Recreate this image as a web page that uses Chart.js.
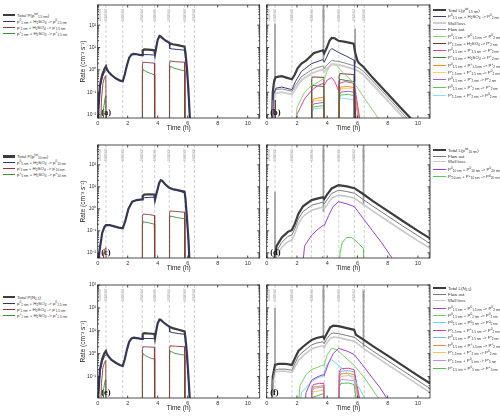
<!DOCTYPE html>
<html>
<head>
<meta charset="utf-8">
<script src="https://cdn.jsdelivr.net/npm/chart.js@4.4.0/dist/chart.umd.min.js"></script>
<style>
html, body { margin: 0; padding: 0; background: #fff; }
#fig { position: relative; width: 500px; height: 417px; overflow: hidden; font-family: "Liberation Sans", Arial, sans-serif; }
#fig canvas { position: absolute; }
.lg { position: absolute; font-size: 4.4px; line-height: 5px; height: 5px; color: #333; white-space: nowrap; }
.lg .s { position: absolute; left: 0; top: 50%; }
.lg sub, .lg sup { font-size: 3.2px; line-height: 0; vertical-align: baseline; position: relative; }
.lg sub { top: 1.2px; }
.lg sup { top: -1.6px; }
</style>
</head>
<body>
<div id="fig"></div>
<script>
// time axis and event markers
const xTicks = [0, 2, 4, 6, 8, 10];
const yDecades = [1e-2, 1e-1, 1, 10, 100, 1000];
const eventTimes = [0, 0.55, 1.67, 2.97, 3.8, 4.77, 5.8, 6.45];
const eventLabels = ['1830.00', '1830.02', '1830.03', '1830.04', '1830.05', '1830.06', '1830.07', '1830.08'];

// (a) production of 1.5 nm particles
const aTotal = [[0,1e-4],[0.05,0.02],[0.15,0.2],[0.3,0.6],[0.45,1.1],[0.55,1.45],[0.6,1.1],[0.7,0.85],[0.9,0.6],[1.2,0.42],[1.5,0.33],[1.67,0.31],[1.8,0.6],[1.95,1.6],[2.1,3.5],[2.25,4.8],[2.4,5.2],[2.6,5.0],[2.8,4.7],[2.96,4.5],[3.0,7.5],[3.1,8.3],[3.4,8.0],[3.78,7.5],[3.82,5.0],[3.9,10],[4.0,22],[4.12,33],[4.2,31],[4.4,24],[4.6,19],[4.76,16.5],[4.8,15.5],[5.0,14],[5.4,12.5],[5.79,11],[5.85,6],[5.95,1.2],[6.05,0.12],[6.15,0.006],[6.25,1e-4]];
const aNeu = [[0,1e-4],[0.05,0.015],[0.15,0.15],[0.3,0.45],[0.45,0.8],[0.55,0.95],[0.6,1.0],[0.7,0.85],[0.9,0.6],[1.2,0.42],[1.5,0.33],[1.67,0.31],[1.8,0.6],[1.95,1.6],[2.1,3.5],[2.25,4.8],[2.4,5.2],[2.6,5.0],[2.8,4.7],[2.96,4.5],[3.0,4.8],[3.4,4.8],[3.78,4.6],[3.82,5.0],[3.9,10],[4.0,22],[4.12,33],[4.2,31],[4.4,24],[4.6,19],[4.76,16.5],[4.8,9],[5.0,8.6],[5.4,8.1],[5.79,7.6],[5.85,4],[5.95,0.8],[6.05,0.08],[6.15,0.005],[6.25,1e-4]];
const aNeg = [[0.15,1e-4],[0.25,0.05],[0.35,0.25],[0.45,0.45],[0.54,0.55],[0.56,0.01],[0.58,1e-4],[2.96,1e-4],[2.98,1.5],[3.02,2.2],[3.4,2.1],[3.78,2.0],[3.8,1e-4],[4.77,1e-4],[4.79,1.8],[4.83,2.5],[5.2,2.3],[5.79,2.2],[5.81,1e-4]];
const aPos = [[0.3,1e-4],[0.4,0.02],[0.5,0.06],[0.54,0.07],[0.56,1e-4],[2.96,1e-4],[2.98,0.6],[3.02,1.05],[3.2,0.85],[3.5,0.7],[3.78,0.6],[3.8,1e-4],[4.77,1e-4],[4.79,0.9],[4.83,1.45],[5.1,1.2],[5.5,1.0],[5.79,0.9],[5.81,1e-4]];
const aLabels = [
  'Total P(p<sup>tot</sup><sub>1.5 nm</sub>)',
  'p<sup>0</sup><sub>1 nm</sub> + H<sub>2</sub>SO<sub>4</sub> -&gt; p<sup>0</sup><sub>1.5 nm</sub>',
  'p<sup>-</sup><sub>1 nm</sub> + H<sub>2</sub>SO<sub>4</sub> -&gt; p<sup>-</sup><sub>1.5 nm</sub>',
  'p<sup>+</sup><sub>1 nm</sub> + H<sub>2</sub>SO<sub>4</sub> -&gt; p<sup>+</sup><sub>1.5 nm</sub>'
];

// (b) losses of 1.5 nm particles
const bTotal = [[0.3,1e-4],[0.4,0.1],[0.5,0.35],[0.6,0.47],[0.8,0.5],[1.0,0.52],[1.3,0.45],[1.67,0.38],[1.85,0.6],[2.05,1.2],[2.3,1.9],[2.6,2.6],[2.97,4.5],[3.1,5.5],[3.4,6.5],[3.72,7.5],[3.8,5.5],[3.95,9],[4.15,20],[4.3,27],[4.5,26],[4.75,20],[5.2,18],[5.75,15],[5.85,6],[6.0,2.6],[6.1,2.0],[6.4,1.35],[7,0.45],[8,0.085],[9,0.016],[9.6,0.006]];
const bCond = [[0.3,1e-4],[0.45,0.08],[0.6,0.15],[1.0,0.17],[1.67,0.13],[1.9,0.3],[2.3,0.85],[2.97,1.9],[3.4,2.4],[3.72,2.9],[3.8,2.2],[3.95,3.5],[4.15,7],[4.3,9],[4.75,6],[5.3,4],[5.78,2.7],[5.82,0.3],[5.9,0.001]];
const bWall = [[0.3,1e-4],[0.45,0.04],[0.6,0.09],[1.0,0.1],[1.67,0.08],[1.9,0.14],[2.3,0.35],[2.97,0.7],[3.4,0.9],[3.72,1.05],[3.8,0.8],[3.95,1.1],[4.3,1.8],[4.75,1.7],[5.3,1.35],[5.8,1.05],[6.1,0.85],[6.4,0.6],[7,0.22],[8,0.042],[9,0.008],[9.2,0.0062]];
const bFlow = [[0.3,1e-4],[0.45,0.06],[0.6,0.13],[1.0,0.14],[1.67,0.11],[1.9,0.2],[2.3,0.5],[2.97,1.0],[3.4,1.3],[3.72,1.5],[3.8,1.1],[3.95,1.6],[4.3,2.6],[4.75,2.4],[5.3,1.9],[5.8,1.5],[6.1,1.2],[6.4,0.85],[7,0.32],[8,0.06],[9,0.011],[9.3,0.0068]];
const bC1 = [[1.75,1e-4],[2.0,0.02],[2.5,0.1],[2.97,0.2],[3.4,0.28],[3.75,0.4],[3.8,0.35],[4.0,0.9],[4.3,1.9],[4.6,1.6],[5,0.8],[5.8,0.25],[6.5,0.05],[7.4,0.0065]];
const bC2 = [[0.3,1e-4],[0.4,0.025],[0.5,0.045],[0.55,0.045],[0.57,1e-4],[2.96,1e-4],[2.98,0.4],[3.03,0.48],[3.4,0.47],[3.78,0.46],[3.8,1e-4],[4.77,1e-4],[4.79,0.55],[4.83,0.68],[5.3,0.65],[5.78,0.62],[5.8,1e-4]];
const bC3 = [[1.7,1e-4],[2.0,0.01],[2.5,0.05],[2.97,0.12],[3.4,0.2],[3.75,0.25],[3.8,0.2],[4.0,0.35],[4.3,0.45],[4.5,0.3],[4.75,0.12],[4.8,0.25],[5.2,0.3],[5.78,0.25],[5.95,0.05],[6.15,0.007]];
const bC4 = [[2.96,1e-4],[2.98,0.15],[3.03,0.2],[3.78,0.18],[3.8,1e-4],[4.77,1e-4],[4.79,0.3],[4.83,0.38],[5.3,0.33],[5.78,0.3],[5.8,1e-4]];
const bC5 = [[2.96,1e-4],[2.98,0.03],[3.1,0.05],[3.78,0.06],[3.8,1e-4],[4.77,1e-4],[4.8,0.1],[4.9,0.17],[5.4,0.18],[5.78,0.16],[5.95,0.03],[6.1,0.007]];
const bC6 = [[2.96,1e-4],[2.98,0.025],[3.1,0.04],[3.78,0.045],[3.8,1e-4],[4.77,1e-4],[4.8,0.09],[4.9,0.14],[5.4,0.15],[5.78,0.13],[5.95,0.025],[6.1,0.007]];
const bC7 = [[2.96,1e-4],[2.98,0.02],[3.1,0.03],[3.78,0.035],[3.8,1e-4],[4.77,1e-4],[4.8,0.07],[4.9,0.1],[5.4,0.11],[5.78,0.1],[5.95,0.02],[6.05,0.007]];
const bC8 = [[2.96,1e-4],[2.98,0.015],[3.1,0.022],[3.78,0.025],[3.8,1e-4],[4.77,1e-4],[4.8,0.05],[4.9,0.075],[5.4,0.08],[5.78,0.07],[5.9,0.007]];
const bC9 = [[2.96,1e-4],[2.98,0.012],[3.1,0.018],[3.78,0.02],[3.8,1e-4],[4.77,1e-4],[4.8,0.04],[4.9,0.055],[5.4,0.05],[5.78,0.045],[5.9,0.007]];
const bSpikeT = [0.55, 3.75, 5.85];
const bSpikeLo = [0.3, 2.7, 1.9];
const bSpikeHi = [120, 800, 71];
const bLabels = [
  'Total L(p<sup>tot</sup><sub>1.5 nm</sub>)',
  'P<sup>0</sup><sub>1.5 nm</sub> + H<sub>2</sub>SO<sub>4</sub> -&gt; P<sup>0</sup><sub>2 nm</sub>',
  'Wall loss',
  'Flow out',
  'P<sup>0</sup><sub>1.5 nm</sub> + P<sup>0</sup><sub>1.5 nm</sub> -&gt; P<sup>0</sup><sub>2 nm</sub>',
  'P<sup>-</sup><sub>1.5 nm</sub> + H<sub>2</sub>SO<sub>4</sub> -&gt; P<sup>-</sup><sub>2 nm</sub>',
  'P<sup>0</sup><sub>1.5 nm</sub> + P<sup>-</sup><sub>1.5 nm</sub> -&gt; P<sup>-</sup><sub>2 nm</sub>',
  'P<sup>+</sup><sub>1.5 nm</sub> + H<sub>2</sub>SO<sub>4</sub> -&gt; P<sup>+</sup><sub>2 nm</sub>',
  'P<sup>0</sup><sub>1.5 nm</sub> + P<sup>+</sup><sub>1.5 nm</sub> -&gt; P<sup>+</sup><sub>2 nm</sub>',
  'P<sup>-</sup><sub>1.5 nm</sub> + P<sup>+</sup><sub>1.5 nm</sub> -&gt; P<sup>0</sup><sub>2 nm</sub>',
  'P<sup>0</sup><sub>1.5 nm</sub> + P<sup>-</sup><sub>2 nm</sub> -&gt; P<sup>-</sup><sub>2 nm</sub>',
  'P<sup>0</sup><sub>1.5 nm</sub> + P<sup>+</sup><sub>2 nm</sub> -&gt; P<sup>+</sup><sub>2 nm</sub>',
  'P<sup>-</sup><sub>1.5 nm</sub> + P<sup>+</sup><sub>2 nm</sub> -&gt; P<sup>0</sup><sub>2 nm</sub>'
];

// (c) production of 10 nm particles
const cTotal = [[0,1e-4],[0.1,0.01],[0.3,0.08],[0.45,0.15],[0.55,0.18],[0.8,0.18],[1.1,0.16],[1.4,0.14],[1.67,0.13],[1.85,0.3],[2.05,1.0],[2.3,2.1],[2.6,2.5],[2.96,2.7],[3.0,3.8],[3.1,4.4],[3.4,4.6],[3.78,4.5],[3.82,2.6],[3.95,6],[4.1,15],[4.2,20],[4.3,19],[4.5,13],[4.77,9],[5.0,8],[5.4,7],[5.79,6],[5.85,3],[5.95,0.4],[6.05,0.04],[6.12,0.004]];
const cNeu = [[0,1e-4],[0.1,0.01],[0.3,0.08],[0.45,0.15],[0.55,0.18],[0.8,0.18],[1.1,0.16],[1.4,0.14],[1.67,0.13],[1.85,0.3],[2.05,1.0],[2.3,2.1],[2.6,2.5],[2.96,2.7],[3.0,3.0],[3.1,3.2],[3.4,3.3],[3.78,3.4],[3.82,2.6],[3.95,6],[4.1,15],[4.2,20],[4.3,19],[4.5,13],[4.77,8.6],[5.0,7.4],[5.4,6.4],[5.79,5.4],[5.85,2.7],[5.95,0.35],[6.05,0.035],[6.12,0.004]];
const cNeg = [[0.3,1e-4],[0.4,0.01],[0.5,0.016],[0.55,0.017],[0.57,1e-4],[2.96,1e-4],[2.98,0.45],[3.03,0.58],[3.4,0.55],[3.78,0.5],[3.8,1e-4],[4.77,1e-4],[4.79,0.6],[4.83,0.8],[5.3,0.75],[5.79,0.7],[5.81,1e-4]];
const cPos = [[2.96,1e-4],[2.98,0.18],[3.03,0.26],[3.4,0.23],[3.78,0.2],[3.8,1e-4],[4.77,1e-4],[4.79,0.35],[4.83,0.47],[5.3,0.4],[5.79,0.35],[5.81,1e-4]];
const cLabels = [
  'Total P(p<sup>tot</sup><sub>10 nm</sub>)',
  'p<sup>0</sup><sub>5 nm</sub> + H<sub>2</sub>SO<sub>4</sub> -&gt; p<sup>0</sup><sub>10 nm</sub>',
  'p<sup>-</sup><sub>5 nm</sub> + H<sub>2</sub>SO<sub>4</sub> -&gt; p<sup>-</sup><sub>10 nm</sub>',
  'p<sup>+</sup><sub>5 nm</sub> + H<sub>2</sub>SO<sub>4</sub> -&gt; p<sup>+</sup><sub>10 nm</sub>'
];

// (d) losses of 10 nm particles
const dTotal = [[0.4,1e-4],[0.5,0.005],[0.65,0.02],[1.0,0.05],[1.4,0.09],[1.67,0.11],[1.85,0.2],[2.1,0.6],[2.4,1.3],[2.97,2.5],[3.4,3.0],[3.72,3.4],[3.8,2.8],[4.0,4.5],[4.3,8.5],[4.75,12],[5.3,10.5],[5.8,8.7],[6.4,4.6],[7,2.3],[8,0.8],[9,0.28],[10,0.1],[10.8,0.045]];
const dFlow = [[0.4,1e-4],[0.5,0.003],[0.65,0.012],[1.0,0.03],[1.4,0.055],[1.67,0.065],[1.85,0.12],[2.1,0.35],[2.4,0.75],[2.97,1.45],[3.4,1.75],[3.72,2.0],[3.8,1.65],[4.0,2.6],[4.3,5.0],[4.75,7.0],[5.3,6.1],[5.8,5.1],[6.4,2.6],[7,1.35],[8,0.47],[9,0.165],[10,0.06],[10.8,0.026]];
const dWall = [[0.4,1e-4],[0.5,0.002],[0.65,0.007],[1.0,0.018],[1.4,0.032],[1.67,0.038],[1.85,0.07],[2.1,0.21],[2.4,0.45],[2.97,0.87],[3.4,1.05],[3.72,1.2],[3.8,1.0],[4.0,1.55],[4.3,3.0],[4.75,4.2],[5.3,3.7],[5.8,3.0],[6.4,1.55],[7,0.8],[8,0.28],[9,0.098],[10,0.035],[10.8,0.016]];
const dC1 = [[2.2,1e-4],[2.5,0.02],[2.97,0.063],[3.4,0.12],[3.75,0.18],[3.8,0.17],[4.1,0.5],[4.4,1.3],[4.75,2.1],[5.3,1.7],[5.8,1.25],[6.4,0.35],[7,0.1],[7.6,0.029],[8.35,0.005]];
const dC2 = [[3.6,1e-4],[3.7,0.007],[3.75,1e-4],[4.75,1e-4],[4.85,0.01],[5.0,0.03],[5.3,0.05],[5.6,0.05],[5.8,0.04],[6.1,0.025],[6.4,0.016],[6.45,1e-4]];
const dSpikeT = [0.55, 3.75, 6.4];
const dSpikeLo = [0.005, 0.74, 1.5];
const dSpikeHi = [6, 800, 800];
const dLabels = [
  'Total L(p<sup>tot</sup><sub>10 nm</sub>)',
  'Flow out',
  'Wall loss',
  'P<sup>0</sup><sub>10 nm</sub> + P<sup>0</sup><sub>10 nm</sub> -&gt; P<sup>0</sup><sub>20 nm</sub>',
  'P<sup>-</sup><sub>10 nm</sub> + P<sup>+</sup><sub>10 nm</sub> -&gt; P<sup>0</sup><sub>20 nm</sub>'
];

// (e) production of N1.5
const eTotal = [[0,1e-4],[0.05,0.02],[0.15,0.2],[0.3,0.6],[0.45,1.05],[0.55,1.3],[0.6,1.0],[0.7,0.8],[0.9,0.55],[1.2,0.4],[1.5,0.31],[1.67,0.29],[1.8,0.55],[1.95,1.5],[2.1,3.3],[2.25,4.6],[2.4,5.0],[2.6,4.8],[2.8,4.5],[2.96,4.4],[3.0,7.2],[3.1,7.9],[3.4,7.6],[3.78,7.2],[3.82,4.8],[3.9,10],[4.0,21],[4.12,31],[4.2,30],[4.4,23],[4.6,18],[4.76,15.5],[4.8,15],[5.0,13],[5.4,11],[5.79,9.4],[5.85,5],[5.95,1.0],[6.05,0.1],[6.15,0.008],[6.25,1e-4]];
const eNeu = [[0,1e-4],[0.05,0.015],[0.15,0.15],[0.3,0.45],[0.45,0.75],[0.55,0.9],[0.6,0.9],[0.7,0.78],[0.9,0.55],[1.2,0.4],[1.5,0.31],[1.67,0.29],[1.8,0.55],[1.95,1.5],[2.1,3.3],[2.25,4.6],[2.4,5.0],[2.6,4.8],[2.8,4.5],[2.96,4.4],[3.0,4.6],[3.4,4.6],[3.78,4.5],[3.82,4.8],[3.9,10],[4.0,21],[4.12,31],[4.2,30],[4.4,23],[4.6,18],[4.76,15.5],[4.8,9],[5.0,8.3],[5.4,7.5],[5.79,7],[5.85,3.5],[5.95,0.7],[6.05,0.07],[6.15,0.006],[6.25,1e-4]];
const eNeg = [[0.15,1e-4],[0.25,0.05],[0.35,0.25],[0.45,0.4],[0.54,0.5],[0.56,1e-4],[2.96,1e-4],[2.98,1.5],[3.02,2.0],[3.4,1.95],[3.78,1.9],[3.8,1e-4],[4.77,1e-4],[4.79,1.7],[4.83,2.2],[5.2,2.1],[5.79,2.0],[5.81,1e-4]];
const ePos = [[0.3,1e-4],[0.4,0.03],[0.5,0.07],[0.54,0.075],[0.56,1e-4],[2.96,1e-4],[2.98,0.6],[3.02,1.0],[3.2,0.8],[3.5,0.65],[3.78,0.58],[3.8,1e-4],[4.77,1e-4],[4.79,0.9],[4.83,1.3],[5.1,1.05],[5.5,0.92],[5.79,0.85],[5.81,1e-4]];
const eLabels = [
  'Total P(N<sub>1.5</sub>)',
  'p<sup>0</sup><sub>1 nm</sub> + H<sub>2</sub>SO<sub>4</sub> -&gt; p<sup>0</sup><sub>1.5 nm</sub>',
  'p<sup>-</sup><sub>1 nm</sub> + H<sub>2</sub>SO<sub>4</sub> -&gt; p<sup>-</sup><sub>1.5 nm</sub>',
  'p<sup>+</sup><sub>1 nm</sub> + H<sub>2</sub>SO<sub>4</sub> -&gt; p<sup>+</sup><sub>1.5 nm</sub>'
];

// (f) losses of N1.5
const fTotal = [[0.25,1e-4],[0.4,0.1],[0.55,0.32],[0.8,0.36],[1.2,0.36],[1.67,0.32],[1.85,0.6],[2.1,1.3],[2.4,2.0],[2.97,4],[3.3,4.8],[3.72,5.6],[3.8,4.5],[3.95,7],[4.2,14],[4.4,16.6],[4.75,16],[5.3,13],[5.78,11],[5.9,6.7],[6.4,4.1],[7,2.2],[8,0.82],[9,0.3],[10,0.11],[10.8,0.05]];
const fFlow = [[0.25,1e-4],[0.4,0.06],[0.55,0.19],[0.8,0.21],[1.2,0.21],[1.67,0.19],[1.85,0.35],[2.1,0.78],[2.4,1.2],[2.97,2.4],[3.3,2.9],[3.72,3.3],[3.8,2.7],[3.95,4.2],[4.2,7],[4.4,8],[4.75,7.5],[5.3,6.2],[5.78,5.2],[5.9,4.6],[6.4,2.5],[7,1.32],[8,0.49],[9,0.18],[10,0.066],[10.8,0.03]];
const fWall = [[0.25,1e-4],[0.4,0.05],[0.55,0.16],[0.8,0.17],[1.2,0.17],[1.67,0.15],[1.85,0.25],[2.1,0.5],[2.4,0.8],[2.97,1.6],[3.3,1.9],[3.72,2.2],[3.8,1.8],[3.95,2.8],[4.2,4.6],[4.4,5.3],[4.75,5.0],[5.3,4.1],[5.78,3.5],[5.9,3.1],[6.4,1.7],[7,0.9],[8,0.33],[9,0.12],[10,0.044],[10.8,0.02]];
const fC1 = [[2.3,1e-4],[2.6,0.02],[2.97,0.07],[3.4,0.1],[3.75,0.12],[3.8,0.11],[4.1,0.4],[4.4,1.0],[4.75,1.7],[5.3,1.3],[5.8,0.9],[6.4,0.28],[7,0.085],[7.5,0.032],[7.95,0.011]];
const fC2 = [[1.9,1e-4],[2.2,0.04],[2.6,0.12],[2.97,0.2],[3.4,0.26],[3.75,0.32],[3.8,0.3],[4.0,0.9],[4.3,1.7],[4.6,1.5],[5,0.9],[5.8,0.3],[6.5,0.08],[7.4,0.011]];
const fC3 = [[1.9,1e-4],[2.3,0.02],[2.97,0.06],[3.4,0.09],[3.72,0.1],[3.8,0.15],[4.0,0.35],[4.3,0.54],[4.75,0.3],[5.3,0.15],[5.8,0.07],[6.2,0.025],[6.5,0.011]];
const fC4 = [[2.96,1e-4],[2.98,0.03],[3.1,0.045],[3.5,0.05],[3.78,0.05],[3.8,1e-4],[4.76,1e-4],[4.8,0.15],[4.9,0.22],[5.4,0.23],[5.78,0.2],[5.95,0.05],[6.15,0.01]];
const fC5 = [[2.96,1e-4],[2.98,0.02],[3.1,0.03],[3.78,0.035],[3.8,1e-4],[4.76,1e-4],[4.8,0.12],[4.9,0.17],[5.4,0.18],[5.78,0.16],[5.95,0.04],[6.15,0.01]];
const fC6 = [[2.96,1e-4],[2.98,0.025],[3.1,0.035],[3.78,0.04],[3.8,1e-4],[4.76,1e-4],[4.8,0.09],[4.9,0.13],[5.4,0.14],[5.78,0.12],[5.95,0.03],[6.1,0.01]];
const fC7 = [[2.96,1e-4],[2.98,0.015],[3.1,0.022],[3.78,0.025],[3.8,1e-4],[4.76,1e-4],[4.8,0.07],[4.9,0.1],[5.4,0.11],[5.78,0.1],[5.95,0.025],[6.1,0.01]];
const fC8 = [[4.76,1e-4],[4.8,0.05],[4.9,0.075],[5.4,0.07],[5.78,0.065],[5.95,0.02],[6.05,0.01]];
const fC9 = [[2.96,1e-4],[2.98,0.012],[3.78,0.018],[3.8,1e-4],[4.76,1e-4],[4.8,0.035],[4.9,0.05],[5.4,0.052],[5.78,0.045],[5.9,0.012]];
const fSpikeT = [0.55, 3.75, 6.4];
const fSpikeLo = [0.3, 5.6, 2.0];
const fSpikeHi = [100, 1000, 550];
const fLabels = [
  'Total L(N<sub>1.5</sub>)',
  'Flow out',
  'Wall loss',
  'P<sup>0</sup><sub>1.5 nm</sub> + P<sup>0</sup><sub>1.5 nm</sub> -&gt; P<sup>0</sup><sub>2 nm</sub>',
  'P<sup>0</sup><sub>1.5 nm</sub> + P<sup>0</sup><sub>2 nm</sub> -&gt; P<sup>0</sup><sub>2 nm</sub>',
  'P<sup>0</sup><sub>1.5 nm</sub> + P<sup>0</sup><sub>5 nm</sub> -&gt; P<sup>0</sup><sub>5 nm</sub>',
  'P<sup>-</sup><sub>1.5 nm</sub> + P<sup>+</sup><sub>1.5 nm</sub> -&gt; P<sup>0</sup><sub>2 nm</sub>',
  'P<sup>0</sup><sub>1.5 nm</sub> + P<sup>-</sup><sub>1.5 nm</sub> -&gt; P<sup>-</sup><sub>2 nm</sub>',
  'P<sup>0</sup><sub>1.5 nm</sub> + P<sup>+</sup><sub>1.5 nm</sub> -&gt; P<sup>+</sup><sub>2 nm</sub>',
  'P<sup>-</sup><sub>1.5 nm</sub> + P<sup>+</sup><sub>2 nm</sub> -&gt; P<sup>0</sup><sub>2 nm</sub>',
  'P<sup>-</sup><sub>1.5 nm</sub> + P<sup>0</sup><sub>5 nm</sub> -&gt; P<sup>-</sup><sub>5 nm</sub>',
  'P<sup>+</sup><sub>1.5 nm</sub> + P<sup>0</sup><sub>5 nm</sub> -&gt; P<sup>+</sup><sub>5 nm</sub>'
];

const FONT = '"Liberation Sans", Arial, sans-serif';
const TOTAL = '#3d3d3d';

function ser(label, data, color, width) {
  return { label, data, color, width };
}

const panels = [
  { letter: '(a)', left: 74, top: 0, width: 188, yAxisW: 23.7, padRight: 2.3, yMin: 0.007, yMax: 800, yLabels: true,
    legendX: 3, sampleW: 12, legendYs: [15, 21, 27, 33],
    series: [ser(aLabels[0], aTotal, TOTAL, 2.2), ser(aLabels[1], aNeu, '#2e3478', 1), ser(aLabels[2], aNeg, '#8e3b3b', 0.9), ser(aLabels[3], aPos, '#3f8f3f', 0.9)] },
  { letter: '(b)', left: 262, top: 0, width: 172, yAxisW: 4.7, padRight: 4, yMin: 0.007, yMax: 800, yLabels: false,
    legendX: 433, sampleW: 13, legendYs: [10, 16.5, 23, 29.5, 36.5, 43.5, 50.5, 57.5, 65, 72, 79.5, 87, 95],
    spikes: [bSpikeT, bSpikeLo, bSpikeHi],
    series: [ser(bLabels[0], bTotal, TOTAL, 2.2), ser(bLabels[1], bCond, '#3a3a7a', 1), ser(bLabels[2], bWall, '#cfcfcf', 2),
      ser(bLabels[3], bFlow, '#8a8a8a', 1), ser(bLabels[4], bC1, '#8fd070', 1), ser(bLabels[5], bC2, '#6e3f33', 1),
      ser(bLabels[6], bC3, '#e8449c', 1), ser(bLabels[7], bC4, '#3f7f3f', 1), ser(bLabels[8], bC5, '#ff8c1a', 1),
      ser(bLabels[9], bC6, '#ffcf66', 1), ser(bLabels[10], bC7, '#a55ee8', 1), ser(bLabels[11], bC8, '#5cc65c', 1),
      ser(bLabels[12], bC9, '#8fdcf2', 1)] },
  { letter: '(c)', left: 74, top: 140, width: 188, yAxisW: 23.7, padRight: 2.3, yMin: 0.0058, yMax: 800, yLabels: true,
    legendX: 3, sampleW: 12, legendYs: [156.5, 162.5, 168.5, 174.5],
    series: [ser(cLabels[0], cTotal, TOTAL, 2.2), ser(cLabels[1], cNeu, '#2e3478', 1), ser(cLabels[2], cNeg, '#8e3b3b', 0.9), ser(cLabels[3], cPos, '#3f8f3f', 0.9)] },
  { letter: '(d)', left: 262, top: 140, width: 172, yAxisW: 4.7, padRight: 4, yMin: 0.0058, yMax: 800, yLabels: false,
    legendX: 433, sampleW: 13, legendYs: [150, 156, 161.7, 169.3, 176.7],
    spikes: [dSpikeT, dSpikeLo, dSpikeHi],
    series: [ser(dLabels[0], dTotal, TOTAL, 2.2), ser(dLabels[1], dFlow, '#7a7a7a', 1), ser(dLabels[2], dWall, '#c8c8c8', 1.6),
      ser(dLabels[3], dC1, '#9b3fe0', 1), ser(dLabels[4], dC2, '#5cc65c', 1)] },
  { letter: '(e)', left: 74, top: 280, width: 188, yAxisW: 23.7, padRight: 2.3, yMin: 0.0115, yMax: 1000, yLabels: true,
    legendX: 3, sampleW: 12, legendYs: [297, 303, 309, 315],
    series: [ser(eLabels[0], eTotal, TOTAL, 2.2), ser(eLabels[1], eNeu, '#2e3478', 1), ser(eLabels[2], eNeg, '#8e3b3b', 0.9), ser(eLabels[3], ePos, '#3f8f3f', 0.9)] },
  { letter: '(f)', left: 262, top: 280, width: 172, yAxisW: 4.7, padRight: 4, yMin: 0.0115, yMax: 1000, yLabels: false,
    legendX: 433, sampleW: 13, legendYs: [288.3, 294.5, 300.7, 308.3, 315.5, 322.7, 330, 337.5, 345, 352.5, 360.5, 368.3],
    spikes: [fSpikeT, fSpikeLo, fSpikeHi],
    series: [ser(fLabels[0], fTotal, TOTAL, 2.2), ser(fLabels[1], fFlow, '#7a7a7a', 1), ser(fLabels[2], fWall, '#c8c8c8', 1.6),
      ser(fLabels[3], fC1, '#9b3fe0', 1), ser(fLabels[4], fC2, '#7dcf6a', 1), ser(fLabels[5], fC3, '#6fd7f5', 1),
      ser(fLabels[6], fC4, '#e03c9c', 1), ser(fLabels[7], fC5, '#7ab7e8', 1), ser(fLabels[8], fC6, '#f58a4a', 1),
      ser(fLabels[9], fC7, '#f5c060', 1), ser(fLabels[10], fC8, '#c28cf0', 1), ser(fLabels[11], fC9, '#4fbf4f', 1)] }
];

const SUP = { '-': '\u207B', '0': '\u2070', '1': '\u00B9', '2': '\u00B2', '3': '\u00B3', '4': '\u2074', '5': '\u2075', '6': '\u2076', '7': '\u2077', '8': '\u2078', '9': '\u2079' };
function pow10(v) {
  const e = Math.round(Math.log10(v));
  return '10' + String(e).split('').map(c => SUP[c]).join('');
}

// dashed event lines, run labels, box with inward ticks, panel letter
const boxPlugin = {
  id: 'box',
  beforeDatasetsDraw(chart, args, opts) {
    const { ctx, chartArea: a, scales: { x } } = chart;
    ctx.save();
    ctx.strokeStyle = '#c4c4c4';
    ctx.lineWidth = 0.8;
    ctx.setLineDash([3, 2]);
    eventTimes.forEach(t => {
      if (t <= 0) return;
      const px = x.getPixelForValue(t);
      ctx.beginPath();
      ctx.moveTo(px, a.top);
      ctx.lineTo(px, a.bottom);
      ctx.stroke();
    });
    ctx.setLineDash([]);
    ctx.fillStyle = '#a8a8a8';
    ctx.font = '3.4px ' + FONT;
    ctx.textAlign = 'left';
    ctx.textBaseline = 'middle';
    eventTimes.forEach((t, i) => {
      const px = x.getPixelForValue(t) + (t <= 0 ? 2 : 0);
      ctx.save();
      ctx.translate(px, a.top + 16);
      ctx.rotate(-Math.PI / 2);
      ctx.fillText(eventLabels[i], 0, 0);
      ctx.restore();
    });
    ctx.restore();
  },
  afterDraw(chart, args, opts) {
    const { ctx, chartArea: a, scales: { x, y } } = chart;
    ctx.save();
    ctx.strokeStyle = '#222';
    ctx.lineWidth = 0.8;
    ctx.strokeRect(a.left, a.top, a.right - a.left, a.bottom - a.top);
    ctx.beginPath();
    xTicks.forEach(v => {
      const px = x.getPixelForValue(v);
      ctx.moveTo(px, a.bottom); ctx.lineTo(px, a.bottom - 2.5);
      ctx.moveTo(px, a.top); ctx.lineTo(px, a.top + 2.5);
    });
    const e0 = Math.floor(Math.log10(y.min)), e1 = Math.ceil(Math.log10(y.max));
    for (let e = e0; e <= e1; e++) {
      for (let k = 1; k <= 9; k++) {
        const v = k * Math.pow(10, e);
        if (v < y.min || v > y.max) continue;
        const len = k === 1 ? 2.5 : 1.4;
        const py = y.getPixelForValue(v);
        ctx.moveTo(a.left, py); ctx.lineTo(a.left + len, py);
        ctx.moveTo(a.right, py); ctx.lineTo(a.right - len, py);
      }
    }
    ctx.stroke();
    ctx.fillStyle = '#111';
    ctx.font = 'bold 8.5px "Liberation Serif", serif';
    ctx.textAlign = 'left';
    ctx.textBaseline = 'alphabetic';
    ctx.fillText(opts.letter, a.left + 3.5, a.bottom - 3);
    ctx.restore();
  }
};

const fig = document.getElementById('fig');

function addLegend(p) {
  p.series.forEach((s, i) => {
    const row = document.createElement('div');
    row.className = 'lg';
    row.style.left = p.legendX + 'px';
    row.style.top = (p.legendYs[i] - 2.5) + 'px';
    const sw = document.createElement('span');
    sw.className = 's';
    sw.style.width = p.sampleW + 'px';
    sw.style.height = s.width + 'px';
    sw.style.marginTop = (-s.width / 2) + 'px';
    sw.style.background = s.color;
    row.appendChild(sw);
    const tx = document.createElement('span');
    tx.style.marginLeft = (p.sampleW + 2) + 'px';
    tx.innerHTML = s.label;
    row.appendChild(tx);
    fig.appendChild(row);
  });
}

function drawPanel(p) {
  const canvas = document.createElement('canvas');
  canvas.width = p.width;
  canvas.height = 132;
  canvas.style.left = p.left + 'px';
  canvas.style.top = p.top + 'px';
  canvas.style.width = p.width + 'px';
  canvas.style.height = '132px';
  fig.appendChild(canvas);

  const datasets = p.series.map((s, i) => ({
    label: s.label.replace(/<[^>]+>/g, ''),
    data: s.data.map(d => ({ x: d[0], y: d[1] })),
    borderColor: s.color,
    borderWidth: s.width,
    order: i === 0 ? 50 : i,
    clip: 0
  }));
  if (p.spikes) {
    const [ts, lo, hi] = p.spikes;
    const pts = [];
    ts.forEach((t, i) => {
      pts.push({ x: t, y: lo[i] }, { x: t, y: hi[i] }, { x: t, y: null });
    });
    datasets.push({ label: 'spikes', data: pts, borderColor: '#9a9a9a', borderWidth: 1.6, order: 100, clip: 0, spanGaps: false });
  }

  new Chart(canvas, {
    type: 'line',
    data: { datasets },
    options: {
      responsive: false,
      animation: false,
      layout: { padding: { top: 5, right: p.padRight, left: 0, bottom: 0 } },
      elements: { point: { radius: 0 }, line: { tension: 0 } },
      plugins: { legend: { display: false }, tooltip: { enabled: false }, box: { letter: p.letter } },
      scales: {
        x: {
          type: 'linear', min: 0, max: 10.8,
          afterBuildTicks: s => { s.ticks = xTicks.map(v => ({ value: v })); },
          afterFit: s => { s.height = 14; },
          grid: { display: false, drawTicks: false },
          border: { display: false },
          ticks: { font: { size: 5.5, family: FONT }, color: '#333', padding: 2, maxRotation: 0, autoSkip: false, callback: v => String(v) },
          title: { display: true, text: 'Time (h)', font: { size: 6.5, family: FONT }, color: '#222', padding: { top: 0, bottom: 0 } }
        },
        y: {
          type: 'logarithmic', min: p.yMin, max: p.yMax,
          afterBuildTicks: s => { s.ticks = yDecades.filter(v => v >= p.yMin && v <= p.yMax).map(v => ({ value: v })); },
          afterFit: s => { s.width = p.yAxisW; },
          grid: { display: false, drawTicks: false },
          border: { display: false },
          ticks: { display: p.yLabels, font: { size: 5, family: FONT }, color: '#333', padding: 1.5, callback: v => pow10(v) },
          title: { display: p.yLabels, text: 'Rate (cm\u207B\u00B3 s\u207B\u00B9)', font: { size: 6.5, family: FONT }, color: '#222', padding: { top: 5, bottom: 0 } }
        }
      }
    },
    plugins: [boxPlugin]
  });
  addLegend(p);
}

panels.forEach(drawPanel);
</script>
</body>
</html>
